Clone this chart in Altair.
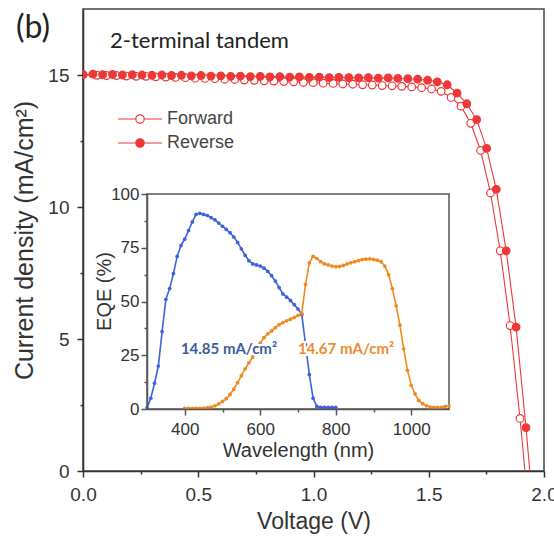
import altair as alt
import pandas as pd

RED = "#ee3838"
BLUE = "#3c62dc"
ORANGE = "#f08a1e"
AX = "#333333"

# ---- J-V curves (V in volts, J in mA/cm2) ----
v_forward = [0.000, 0.060, 0.102, 0.145, 0.188, 0.231, 0.273, 0.316, 0.359, 0.401,
             0.444, 0.487, 0.529, 0.572, 0.615, 0.658, 0.700, 0.743, 0.786, 0.828,
             0.871, 0.914, 0.956, 0.999, 1.042, 1.085, 1.127, 1.170, 1.213, 1.255,
             1.298, 1.341, 1.383, 1.426, 1.469, 1.512, 1.554, 1.597, 1.640, 1.682,
             1.725, 1.768, 1.810, 1.853, 1.896, 1.939]
j_forward = [15.00, 14.99, 14.98, 14.98, 14.96, 14.95, 14.95, 14.93, 14.92, 14.91,
             14.90, 14.88, 14.87, 14.86, 14.84, 14.83, 14.81, 14.80, 14.78, 14.77,
             14.75, 14.74, 14.72, 14.71, 14.69, 14.68, 14.66, 14.65, 14.63, 14.62,
             14.60, 14.59, 14.57, 14.55, 14.52, 14.47, 14.38, 14.15, 13.82, 13.17,
             12.14, 10.53, 8.34, 5.51, 1.99, -2.0]
v_reverse = [0.000, 0.043, 0.085, 0.128, 0.171, 0.214, 0.256, 0.299, 0.342, 0.384,
             0.427, 0.470, 0.512, 0.555, 0.598, 0.641, 0.683, 0.726, 0.769, 0.811,
             0.854, 0.897, 0.939, 0.982, 1.025, 1.068, 1.110, 1.153, 1.196, 1.238,
             1.281, 1.324, 1.366, 1.409, 1.452, 1.495, 1.537, 1.580, 1.623, 1.665,
             1.708, 1.751, 1.793, 1.836, 1.879, 1.922, 1.964]
j_reverse = [15.02, 15.03, 15.01, 15.02, 15.00, 15.01, 15.00, 14.99, 15.00, 14.98,
             14.99, 14.97, 14.98, 14.96, 14.97, 14.95, 14.96, 14.94, 14.95, 14.93,
             14.94, 14.92, 14.93, 14.91, 14.92, 14.90, 14.91, 14.90, 14.89, 14.90,
             14.88, 14.89, 14.87, 14.86, 14.84, 14.80, 14.74, 14.63, 14.31, 13.91,
             13.31, 12.22, 10.67, 8.34, 5.45, 1.64, -2.6]
scan_names = ["Forward", "Reverse"]

# ---- EQE inset ----
wl_top = [300, 310, 320, 330, 340, 350, 360, 370, 380, 390, 400, 410, 420, 430, 440,
          450, 460, 470, 480, 490, 500, 510, 520, 530, 540, 550, 560, 570, 580, 590,
          600, 610, 620, 630, 640, 650, 660, 670, 680, 690, 700, 710, 720, 730, 740,
          750, 760, 770, 780, 790, 800]
eqe_top = [0.5, 5, 12, 20, 36, 51, 56, 63, 71, 76, 79, 83, 87, 90.5, 91,
           90.5, 90, 89, 88, 86.5, 85, 83.5, 82, 80, 77.5, 74.5, 71.5, 69, 67.5, 67,
           66.5, 65.5, 64, 62, 59.5, 56.5, 53.5, 52, 50.5, 48.5, 46.5, 44, 30, 16, 5,
           1.2, 0.8, 0.8, 0.7, 0.8, 0.8]
wl_bottom = [400, 410, 420, 430, 440, 450, 460, 470, 480, 490, 500, 510, 520, 530, 540,
             550, 560, 570, 580, 590, 600, 610, 620, 630, 640, 650, 660, 670, 680, 690,
             700, 710, 720, 730, 740, 750, 760, 770, 780, 790, 800, 810, 820, 830, 840,
             850, 860, 870, 880, 890, 900, 910, 920, 930, 940, 950, 960, 970, 980, 990,
             1000, 1010, 1020, 1030, 1040, 1050, 1060, 1070, 1080, 1090, 1100]
eqe_bottom = [0.3, 0.3, 0.3, 0.3, 0.3, 0.4, 0.6, 0.9, 1.5, 2.4, 3.5, 4.8, 6.8, 9.3, 12.3,
              15.5, 18.7, 21.5, 24.2, 27.5, 30.6, 33.2, 35.0, 36.3, 37.8, 39.2, 40.2, 41.0, 41.8, 42.6,
              43.5, 44.5, 58, 68, 71, 70, 68.5, 67.5, 67, 66.5, 66.2, 66.3, 66.8, 67.5, 68,
              68.5, 69, 69.5, 69.7, 69.8, 69.6, 69.2, 68.5, 66.5, 62.5, 56, 48, 39, 28, 18,
              11, 7, 4, 2.5, 1.5, 0.9, 0.7, 0.7, 0.8, 1.2, 1.5]
inset_frame_wl = [300, 1100]
inset_frame_eqe = [0, 100]

jsc_text = ["14.85 mA/cm²", "14.67 mA/cm²"]
jsc_wl = [517, 827]
jsc_eqe = [28, 28]
jsc_color = ["#3b5e9e", "#ec8c2c"]

jv = pd.DataFrame({
    "V": v_forward + v_reverse,
    "J": j_forward + j_reverse,
    "scan": [scan_names[0]] * len(v_forward) + [scan_names[1]] * len(v_reverse),
})
top_df = pd.DataFrame({"wl": wl_top, "eqe": eqe_top})
bot_df = pd.DataFrame({"wl": wl_bottom, "eqe": eqe_bottom})
ann_df = pd.DataFrame({"wl": jsc_wl, "eqe": jsc_eqe, "text": jsc_text, "c": jsc_color})
frame_df = pd.DataFrame({"wl": [inset_frame_wl[0]], "wl2": [inset_frame_wl[1]],
                         "eqe": [inset_frame_eqe[0]], "eqe2": [inset_frame_eqe[1]]})

W, H = 461, 462

# ---- main axes ----
mx = "abs(datum.value*2 - round(datum.value*2)) < 0.001"
x_main = alt.X(
    "V:Q", title="Voltage (V)",
    scale=alt.Scale(domain=[0, 2], nice=False, zero=False),
    axis=alt.Axis(
        values=[0, 0.25, 0.5, 0.75, 1.0, 1.25, 1.5, 1.75, 2.0],
        labelExpr=f"{mx} ? format(datum.value, '.1f') : ''",
        tickSize={"condition": {"test": mx, "value": 6}, "value": 3},
        labelFlush=False, labelOverlap=False, labelPadding=8,
        labelFontSize=19, labelFont="Liberation Sans", labelColor=AX,
        titleFontSize=23, titleFont="Liberation Sans", titleColor=AX,
        titleFontWeight="normal", titlePadding=6,
        domainColor=AX, domainWidth=1.5, tickColor=AX, tickWidth=1.5, grid=False,
    ),
)
my = "datum.value % 5 === 0"
y_main = alt.Y(
    "J:Q", title="Current density (mA/cm²)",
    scale=alt.Scale(domain=[0, 17.5], nice=False, zero=False),
    axis=alt.Axis(
        values=[0, 2.5, 5, 7.5, 10, 12.5, 15],
        labelExpr=f"{my} ? datum.label : ''",
        tickSize={"condition": {"test": my, "value": 6}, "value": 3},
        labelFlush=False, labelOverlap=False, labelPadding=8,
        labelFontSize=19, labelFont="Liberation Sans", labelColor=AX,
        titleFontSize=25, titleFont="Liberation Sans", titleColor=AX,
        titleFontWeight="normal", titlePadding=10,
        domainColor=AX, domainWidth=1.5, tickColor=AX, tickWidth=1.5, grid=False,
    ),
)

legend_path = ("M-2.2,0H-0.42M0.42,0H2.2M0.42,0A0.42,0.42,0,1,1,-0.42,0"
               "A0.42,0.42,0,1,1,0.42,0Z")

jv_lines = alt.Chart(jv).mark_line(color=RED, strokeWidth=1.1, clip=True).encode(
    x=x_main, y=y_main, detail="scan:N"
)
jv_points = alt.Chart(jv).mark_point(
    filled=False, size=58, strokeWidth=1.2, stroke=RED, opacity=1, clip=True
).encode(
    x=x_main, y=y_main,
    fill=alt.Fill(
        "scan:N",
        scale=alt.Scale(domain=scan_names, range=["white", RED]),
        legend=alt.Legend(
            title=None, orient="none", legendX=46, legendY=99, padding=0,
            symbolType=legend_path, symbolSize=400, symbolStrokeColor=RED,
            symbolStrokeWidth=1.2, labelOffset=16, rowPadding=4,
            labelFontSize=18, labelFont="Liberation Sans", labelColor="#444444",
        ),
    ),
    order=alt.Order("scan:N"),
)
title_b = alt.Chart(pd.DataFrame({"t": ["(b)"]})).mark_text(
    align="left", baseline="middle", fontSize=32, font="Lato", color="#222222"
).encode(x=alt.value(-67), y=alt.value(19), text="t:N")
title_t = alt.Chart(pd.DataFrame({"t": ["2-terminal tandem"]})).mark_text(
    align="left", baseline="middle", fontSize=22, font="Lato", color="#222222"
).encode(x=alt.value(27), y=alt.value(32), text="t:N")

main = alt.layer(jv_lines, jv_points, title_b, title_t)

# ---- inset axes ----
sc_xin = alt.Scale(domain=[300, 1100], range=[64, 366], nice=False, zero=False)
sc_yin = alt.Scale(domain=[0, 100], range=[400, 185], nice=False, zero=False)
ix = "datum.value % 200 === 0"
ax_xin = alt.Axis(
    orient="bottom", offset=-62,
    values=[400, 500, 600, 700, 800, 900, 1000],
    labelExpr=f"{ix} ? format(datum.value, 'd') : ''",
    tickSize={"condition": {"test": ix, "value": 6}, "value": 3},
    labelFlush=False, labelOverlap=False, labelPadding=6,
    labelFontSize=17, labelFont="Liberation Sans", labelColor=AX,
    titleFontSize=20, titleFont="Liberation Sans", titleColor=AX,
    titleFontWeight="normal", titlePadding=3,
    domainColor="#555555", domainWidth=1.5, tickColor="#555555", tickWidth=1.5,
    grid=False, zindex=1,
)
iy = "datum.value % 25 === 0"
ax_yin = alt.Axis(
    orient="left", offset=-64,
    values=[0, 12.5, 25, 37.5, 50, 62.5, 75, 87.5, 100],
    labelExpr=f"{iy} ? datum.label : ''",
    tickSize={"condition": {"test": iy, "value": 6}, "value": 3},
    labelFlush=False, labelOverlap=False, labelPadding=2,
    labelFontSize=17, labelFont="Liberation Sans", labelColor=AX,
    titleFontSize=20, titleFont="Liberation Sans", titleColor=AX,
    titleFontWeight="normal", titlePadding=-4, titleY=282,
    domainColor="#555555", domainWidth=1.5, tickColor="#555555", tickWidth=1.5,
    grid=False, zindex=1,
)
x_in = alt.X("wl:Q", title="Wavelength (nm)", scale=sc_xin, axis=ax_xin)
y_in = alt.Y("eqe:Q", title="EQE (%)", scale=sc_yin, axis=ax_yin)

frame = alt.Chart(frame_df).mark_rect(
    filled=False, stroke="#555555", strokeWidth=1.5
).encode(x=x_in, x2="wl2:Q", y=y_in, y2="eqe2:Q")

bot_line = alt.Chart(bot_df).mark_line(color=ORANGE, strokeWidth=1.6).encode(x=x_in, y=y_in)
bot_pts = alt.Chart(bot_df).mark_circle(color=ORANGE, size=14, opacity=1).encode(x=x_in, y=y_in)
top_line = alt.Chart(top_df).mark_line(color=BLUE, strokeWidth=1.6).encode(x=x_in, y=y_in)
top_pts = alt.Chart(top_df).mark_circle(color=BLUE, size=14, opacity=1).encode(x=x_in, y=y_in)
ann_halo = alt.Chart(ann_df).mark_text(
    fontSize=15, font="Lato", fontWeight="bold", stroke="white", strokeWidth=4,
    align="center", baseline="middle"
).encode(x=x_in, y=y_in, text="text:N")
ann_txt = alt.Chart(ann_df).mark_text(
    fontSize=15, font="Lato", fontWeight="bold", align="center", baseline="middle"
).encode(x=x_in, y=y_in, text="text:N", color=alt.Color("c:N", scale=None))

inset = alt.layer(frame, top_line, top_pts, bot_line, bot_pts, ann_halo, ann_txt)

chart = alt.layer(main, inset).resolve_scale(
    x="independent", y="independent"
).properties(
    width=W, height=H,
    autosize=alt.AutoSizeParams(type="none"),
    padding={"left": 83, "top": 9, "right": 10, "bottom": 65},
).configure_view(stroke="#444444", strokeWidth=1.5)

chart.save("out.html", embed_options={"renderer": "svg", "actions": False})
